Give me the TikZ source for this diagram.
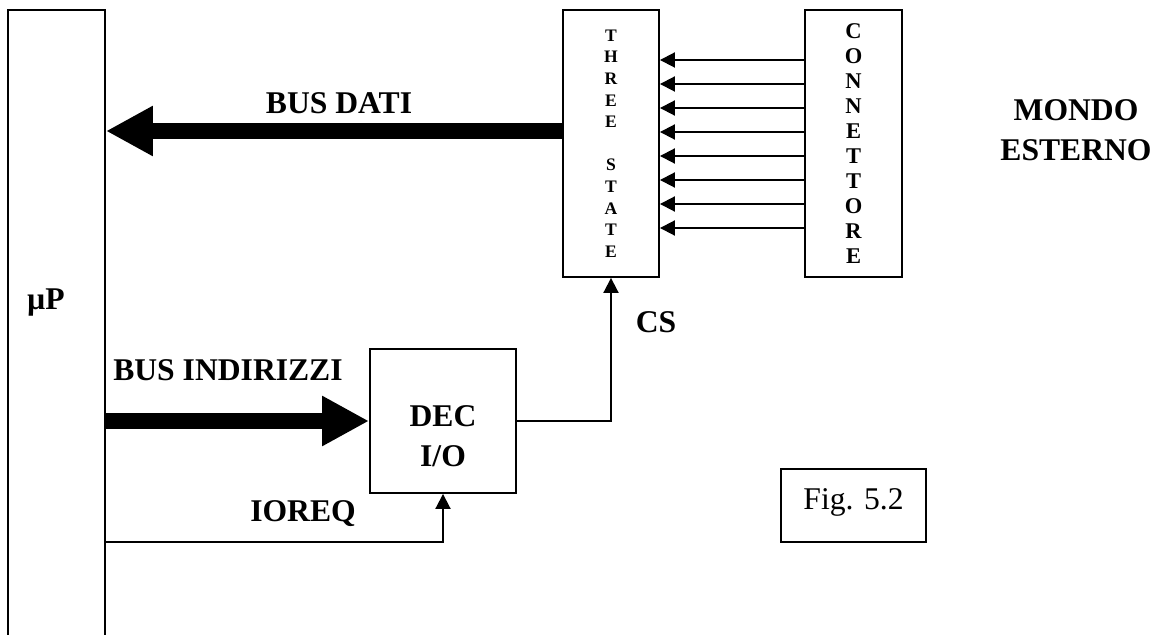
\documentclass[tikz,border=0pt]{standalone}
\usepackage{fontspec}
\setmainfont{Liberation Serif}
\usetikzlibrary{arrows.meta}

\begin{document}
\begin{tikzpicture}[
  x=0.02cm,y=-0.02cm,
  line width=1.1pt,
  font=\fontsize{18}{22.8}\selectfont\bfseries,
  box/.style={draw,inner sep=0pt,align=center},
  lab/.style={inner sep=0pt,align=center},
  sig/.style={-{Triangle[length=0.3cm,width=0.3cm]}},
  bus/.style={line width=0.32cm,-{Triangle[length=0.94cm,width=0.94cm]}}]

  \clip (0,0) rectangle (1150,635);

  % ---- blocks ----
  \node[box,minimum width=1.94cm,minimum height=13cm] (up) at (56.5,335) {};
  \node[lab] (uplab) at (46,303) {µP};
  \node[box,minimum width=1.92cm,minimum height=5.34cm,
    font=\fontsize{10}{12.3}\selectfont\bfseries] (ts) at (611,143.5)
    {T\\H\\R\\E\\E\\\mbox{}\\S\\T\\A\\T\\E};
  \node[box,minimum width=1.94cm,minimum height=5.34cm,
    font=\fontsize{12.8}{14.2}\selectfont\bfseries] (conn) at (853.5,143.5)
    {C\\O\\N\\N\\E\\T\\T\\O\\R\\E};
  \node[box,minimum width=2.92cm,minimum height=2.88cm] (dec) at (443,421) {};
  \node[lab] (declab) at (443,436) {DEC\\I/O};
  \node[box,minimum width=2.9cm,minimum height=1.46cm,
    font=\fontsize{18}{22.8}\selectfont\mdseries] (fig) at (853.5,505.5) {};
  \node[lab,font=\fontsize{18}{22.8}\selectfont\mdseries] (figlab) at (853.5,502) {Fig. 5.2};

  % ---- connector lines ----
  \foreach \y in {60,84,...,228}
    \draw[sig] (conn.west |- 0,\y) -- (ts.east |- 0,\y);

  % ---- buses ----
  \coordinate (datarow) at (0,131);
  \draw[bus] (ts.west |- datarow) -- (up.east |- datarow);
  \draw[bus] (up.east |- dec) -- (dec.west);

  % ---- control signals ----
  \coordinate (ioreqrow) at (0,542);
  \draw[sig] (up.east |- ioreqrow) -| (dec.south);
  \draw[sig] (dec.east) -| (ts.south);

  % ---- labels ----
  \node[lab] (busdati) at (339,103) {BUS DATI};
  \node[lab] (busind) at (228,370) {BUS INDIRIZZI};
  \node[lab] (ioreq) at (303,514) {IOREQ};
  \node[lab] (cs) at (656,322) {CS};
  \node[lab] (mondo) at (1076,130) {MONDO\\ESTERNO};
\end{tikzpicture}
\end{document}
